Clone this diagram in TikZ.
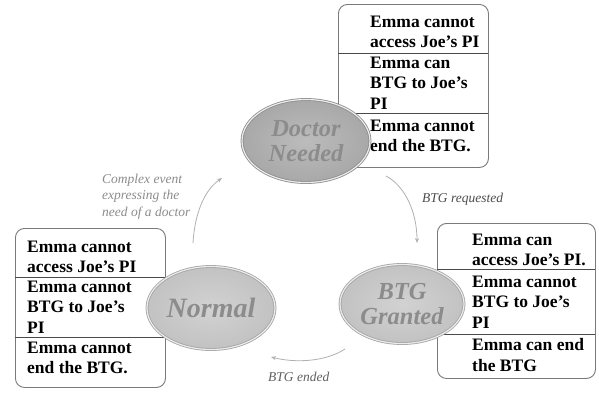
\documentclass[tikz,border=0pt]{standalone}
\usepackage{fontspec}
\setmainfont{Liberation Serif}
\usetikzlibrary{arrows.meta,shapes.geometric}
\definecolor{boxline}{HTML}{7A7A7A}
\definecolor{divline}{HTML}{4A4A4A}
\definecolor{ellin}{HTML}{BCBCBC}
\definecolor{ellout}{HTML}{A8A8A8}
\definecolor{ellinl}{HTML}{D2D2D2}
\definecolor{elloutl}{HTML}{C2C2C2}
\definecolor{ellrim}{HTML}{8C8C8C}
\definecolor{elltext}{HTML}{8C8C8C}
\definecolor{arrowc}{HTML}{B0B0B0}
\tikzset{
  statebox/.style={draw=boxline, line width=0.9pt, rounded corners=9pt, fill=white, anchor=north west, inner sep=0pt},
  divider/.style={draw=divline, line width=0.8pt},
  boxtext/.style={anchor=north west, align=left, inner sep=0pt, font=\fontsize{17.5}{20.5}\selectfont\bfseries},
  stateell/.style={ellipse, draw=ellrim, line width=0.8pt, double=white!85!gray, double distance=1.2pt,
     inner color=ellin, outer color=ellout, inner sep=0pt, align=center, text=elltext,
     font=\fontsize{24.5}{25}\selectfont\bfseries\itshape},
  lightell/.style={inner color=ellinl, outer color=elloutl, draw=ellrim!80},
  evlabel/.style={anchor=north west, align=left, inner sep=0pt, font=\fontsize{13.5}{16.5}\selectfont\itshape},
  trans/.style={draw=arrowc, line width=0.8pt, -{Stealth[length=5pt,width=4pt]}}
}
\begin{document}
\begin{tikzpicture}[x=1pt, y=-1pt]
\useasboundingbox (0,0) rectangle (599,392);
\fill[white] (0,0) rectangle (599,392);

% top box (Doctor Needed)
\node[statebox, minimum width=150pt, minimum height=163pt] (topbox) at (338,4) {};
\draw[divider] (338,53) -- (488,53);
\draw[divider] (338,113) -- (488,113);
\node[boxtext] (t1) at (370,15.5) {Emma cannot\\access Joe’s PI};
\node[boxtext] (t2) at (370,56.5) {Emma can\\BTG to Joe’s\\PI};
\node[boxtext] (t3) at (370,119.5) {Emma cannot\\end the BTG.};

% right box (BTG Granted)
\node[statebox, minimum width=158pt, minimum height=155pt] (rightbox) at (437,223) {};
\draw[divider] (437,269) -- (595,269);
\draw[divider] (437,334) -- (595,334);
\node[boxtext] (r1) at (472,233.5) {Emma can\\access Joe’s PI.};
\node[boxtext] (r2) at (472,275.5) {Emma cannot\\BTG to Joe’s\\PI};
\node[boxtext] (r3) at (472,338.5) {Emma can end\\the BTG};

% left box (Normal)
\node[statebox, minimum width=150pt, minimum height=159pt] (leftbox) at (15,228) {};
\draw[divider] (15,277) -- (165,277);
\draw[divider] (15,337) -- (165,337);
\node[boxtext] (l1) at (27,240.5) {Emma cannot\\access Joe’s PI};
\node[boxtext] (l2) at (27,280.5) {Emma cannot\\BTG to Joe’s\\PI};
\node[boxtext] (l3) at (27,341.5) {Emma cannot\\end the BTG.};

% state ellipses
\node[stateell, minimum width=128pt, minimum height=83pt] (doctor) at (306,141) {Doctor\\Needed};
\node[stateell, lightell, minimum width=124pt, minimum height=79pt] (granted) at (402,304) {BTG\\Granted};
\node[stateell, lightell, minimum width=128pt, minimum height=83pt, font=\fontsize{28}{28}\selectfont\bfseries\itshape] (normal) at (211,308) {Normal};

% transitions
\coordinate (a1s) at (193,243);
\coordinate (a1e) at (222,178);
\draw[trans] (a1s) .. controls (195,210) and (206,189) .. (a1e);
\coordinate (a2s) at (386,176);
\coordinate (a2e) at (417,243);
\draw[trans] (a2s) .. controls (405,186) and (417,212) .. (a2e);
\coordinate (a3s) at (345,349);
\coordinate (a3e) at (271,357);
\draw[trans] (a3s) .. controls (325,362) and (295,363) .. (a3e);

% labels
\node[evlabel, text=black!45] (lab1) at (102,173.7) {Complex event\\expressing the\\need of a doctor};
\node[evlabel, text=black!70] (lab2) at (422,192.7) {BTG requested};
\node[evlabel, text=black!62] (lab3) at (268,372) {BTG ended};
\end{tikzpicture}
\end{document}
